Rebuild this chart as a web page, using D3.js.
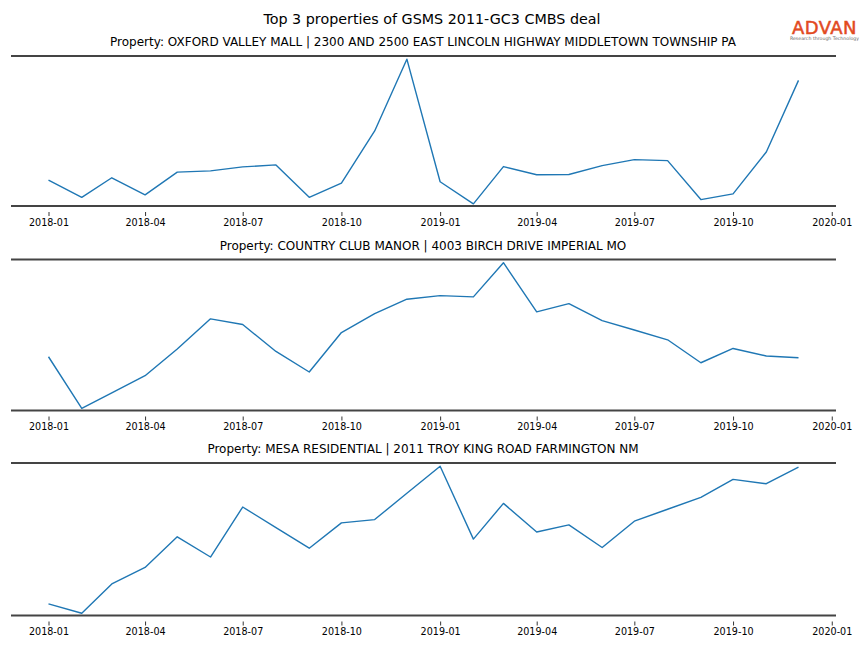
<!DOCTYPE html>
<html>
<head>
<meta charset="utf-8">
<script src="https://cdn.jsdelivr.net/npm/d3@7"></script>
<style>
  html, body { margin: 0; padding: 0; background: #fff; }
  text { font-family: "DejaVu Sans", sans-serif; }
</style>
</head>
<body>
<svg id="chart" width="864" height="648"></svg>
<script>
// ---- data ----
const months = ["2018-01","2018-02","2018-03","2018-04","2018-05","2018-06","2018-07","2018-08","2018-09","2018-10","2018-11","2018-12",
                "2019-01","2019-02","2019-03","2019-04","2019-05","2019-06","2019-07","2019-08","2019-09","2019-10","2019-11","2019-12"];
const tickLabels = ["2018-01","2018-04","2018-07","2018-10","2019-01","2019-04","2019-07","2019-10","2020-01"];
const chartTitle = "Top 3 properties of GSMS 2011-GC3 CMBS deal";
const propertyNames = [
  "Property: OXFORD VALLEY MALL | 2300 AND 2500 EAST LINCOLN HIGHWAY MIDDLETOWN TOWNSHIP PA",
  "Property: COUNTRY CLUB MANOR | 4003 BIRCH DRIVE IMPERIAL MO",
  "Property: MESA RESIDENTIAL | 2011 TROY KING ROAD FARMINGTON NM"
];
const oxfordValues = [2570, 830, 2800, 1070, 3370, 3500, 3900, 4100, 830, 2270, 7530, 14770,
                      2400, 170, 3930, 3100, 3130, 4030, 4630, 4530, 600, 1170, 5400, 12630];
const countryClubValues = [537, 20, 175, 347, 614, 917, 860, 590, 384, 780, 970, 1114,
                           1150, 1137, 1480, 987, 1070, 900, 805, 707, 477, 620, 544, 527];
const mesaValues = [123, 30, 320, 483, 786, 586, 1080, 876, 673, 923, 956, 1216,
                    1483, 763, 1116, 833, 903, 680, 940, 1058, 1176, 1353, 1310, 1473];
const seriesList = [oxfordValues, countryClubValues, mesaValues];

// ---- layout ----
const svg = d3.select("#chart");
const plotLeft = 11, plotRight = 836;
const panels = [{top: 56, height: 150}, {top: 259.5, height: 151}, {top: 463, height: 152.5}];

const parse = d3.timeParse("%Y-%m");
const dates = months.map(parse);
const tickDates = tickLabels.map(parse);

// x domain with 5% margin like matplotlib
const ext = d3.extent(dates);
const span = ext[1] - ext[0];
const x = d3.scaleTime()
  .domain([new Date(+ext[0] - span * 0.05), new Date(+ext[1] + span * 0.05)])
  .range([plotLeft, plotRight]);

// title
svg.append("text")
  .attr("x", 432).attr("y", 24)
  .attr("text-anchor", "middle")
  .attr("font-size", "14.3px")
  .attr("fill", "#000")
  .text(chartTitle);

// logo
const logo = svg.append("g");
logo.append("text")
  .attr("x", 824.5).attr("y", 33.5)
  .attr("text-anchor", "middle")
  .attr("font-size", "18px")
  .attr("font-family", "Liberation Sans, Arial, sans-serif")
  .attr("letter-spacing", "0.4px")
  .attr("fill", "#e24a1f")
  .attr("stroke", "#e24a1f")
  .attr("stroke-width", 0.5)
  .text("ADVAN");
logo.append("text")
  .attr("x", 824.5).attr("y", 40)
  .attr("text-anchor", "middle")
  .attr("font-size", "4.7px")
  .attr("font-family", "Liberation Sans, Arial, sans-serif")
  .attr("fill", "#666")
  .text("Research through Technology");

panels.forEach((p, i) => {
  const vals = seriesList[i];
  const vext = d3.extent(vals);
  const r = vext[1] - vext[0];
  const y = d3.scaleLinear()
    .domain([vext[0] - r * 0.015, vext[1] + r * 0.022])
    .range([p.top + p.height, p.top]);

  const g = svg.append("g");

  // subtitle
  g.append("text")
    .attr("x", 423).attr("y", p.top - 10)
    .attr("text-anchor", "middle")
    .attr("font-size", "12px")
    .attr("fill", "#000")
    .text(propertyNames[i]);

  // spines (top & bottom)
  g.append("line")
    .attr("x1", plotLeft).attr("x2", plotRight)
    .attr("y1", p.top).attr("y2", p.top)
    .attr("stroke", "#444").attr("stroke-width", 1.8);
  g.append("line")
    .attr("x1", plotLeft).attr("x2", plotRight)
    .attr("y1", p.top + p.height).attr("y2", p.top + p.height)
    .attr("stroke", "#444").attr("stroke-width", 1.8);

  // x axis
  const axis = d3.axisBottom(x)
    .tickValues(tickDates)
    .tickFormat((d, k) => tickLabels[k])
    .tickSize(4)
    .tickPadding(3);
  const ag = g.append("g")
    .attr("transform", `translate(0,${p.top + p.height + 6})`)
    .call(axis);
  ag.select(".domain").remove();
  ag.selectAll(".tick line").attr("stroke", "#000").attr("stroke-width", 0.8);
  ag.selectAll(".tick text")
    .attr("font-size", "9.6px")
    .attr("font-family", "DejaVu Sans, sans-serif")
    .attr("fill", "#000");

  // line
  const line = d3.line()
    .x((d, k) => x(dates[k]))
    .y(d => y(d));
  g.append("path")
    .datum(vals)
    .attr("d", line)
    .attr("fill", "none")
    .attr("stroke", "#1f77b4")
    .attr("stroke-width", 1.4)
    .attr("stroke-linejoin", "round");
});
</script>
</body>
</html>
